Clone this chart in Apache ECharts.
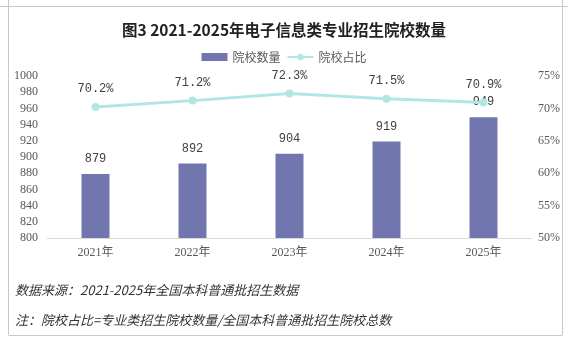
<!DOCTYPE html>
<html><head><meta charset="utf-8">
<script src="https://cdn.jsdelivr.net/npm/echarts@6/dist/echarts.min.js"></script>
<style>html,body{margin:0;padding:0;background:#fff}#c{width:568px;height:343px}</style>
</head><body><div id="c"></div>
<script>
const title = '图3 2021-2025年电子信息类专业招生院校数量';
const categories = ['2021年','2022年','2023年','2024年','2025年'];
const schoolCounts = [879, 892, 904, 919, 949];
const schoolShare = [70.2, 71.2, 72.3, 71.5, 70.9];
const leftTicks = {min: 800, max: 1000, interval: 20};
const rightTicks = {min: 50, max: 75, interval: 5};
const note1 = '数据来源：2021-2025年全国本科普通批招生数据';
const note2 = '注：院校占比=专业类招生院校数量/全国本科普通批招生院校总数';

const serif = '"Liberation Serif","Noto Sans CJK SC",serif';
const mono = '"Liberation Mono","Noto Sans CJK SC",monospace';
const chart = echarts.init(document.getElementById('c'), null, {renderer: 'canvas'});
chart.setOption({
  animation: false,
  title: {text: title, left: 'center', top: 17,
    textStyle: {fontFamily: '"Noto Sans CJK SC"', fontWeight: 'bold', fontSize: 15.5, color: '#222'}},
  legend: {top: 46, left: 'center', itemGap: 6, itemWidth: 26, itemHeight: 8,
    textStyle: {fontFamily: '"Noto Sans CJK SC"', fontSize: 12, color: '#595959'},
    data: [{name: '院校数量', icon: 'rect'}, {name: '院校占比'}]},
  grid: {left: 47, right: 36, top: 76, bottom: 105},
  xAxis: {type: 'category', data: categories,
    axisLine: {lineStyle: {color: '#d9d9d9'}}, axisTick: {show: false},
    axisLabel: {fontFamily: serif, fontSize: 12, color: '#595959', margin: 9}},
  yAxis: [
    {type: 'value', min: leftTicks.min, max: leftTicks.max, interval: leftTicks.interval,
      splitLine: {show: false}, axisLine: {show: false}, axisTick: {show: false},
      axisLabel: {fontFamily: serif, fontSize: 12, color: '#595959', margin: 9, formatter: v => String(v)}},
    {type: 'value', min: rightTicks.min, max: rightTicks.max, interval: rightTicks.interval,
      splitLine: {show: false}, axisLine: {show: false}, axisTick: {show: false},
      axisLabel: {fontFamily: serif, fontSize: 12, color: '#595959', margin: 6, formatter: '{value}%'}}
  ],
  series: [
    {name: '院校数量', type: 'bar', data: schoolCounts, barWidth: 28,
      itemStyle: {color: '#7276ae'},
      label: {show: true, position: 'top', distance: 9, fontFamily: mono, fontSize: 12, color: '#404040'}},
    {name: '院校占比', type: 'line', yAxisIndex: 1, data: schoolShare,
      symbol: 'circle', symbolSize: 8,
      lineStyle: {color: '#b2e6e4', width: 3}, itemStyle: {color: '#b2e6e4'},
      label: {show: true, position: 'top', distance: 8, fontFamily: mono, fontSize: 12, color: '#404040',
        formatter: p => p.value.toFixed(1) + '%'}}
  ],
  graphic: [
    {type: 'line', shape: {x1: 0, y1: 6.5, x2: 568, y2: 6.5}, style: {stroke: '#c8c8c8', lineWidth: 1}},
    {type: 'line', shape: {x1: 8.5, y1: 0, x2: 8.5, y2: 335}, style: {stroke: '#c8c8c8', lineWidth: 1}},
    {type: 'line', shape: {x1: 562.5, y1: 0, x2: 562.5, y2: 335}, style: {stroke: '#c8c8c8', lineWidth: 1}},
    {type: 'line', shape: {x1: 8.5, y1: 335.5, x2: 562.5, y2: 335.5}, style: {stroke: '#c8c8c8', lineWidth: 1}},
    {type: 'text', left: 15, top: 284, style: {text: note1, fontFamily: '"Noto Sans CJK SC"', fontStyle: 'italic', fontSize: 13, fill: '#333'}},
    {type: 'text', left: 15, top: 314, style: {text: note2, fontFamily: '"Noto Sans CJK SC"', fontStyle: 'italic', fontSize: 13, fill: '#333'}}
  ]
});
</script></body></html>
